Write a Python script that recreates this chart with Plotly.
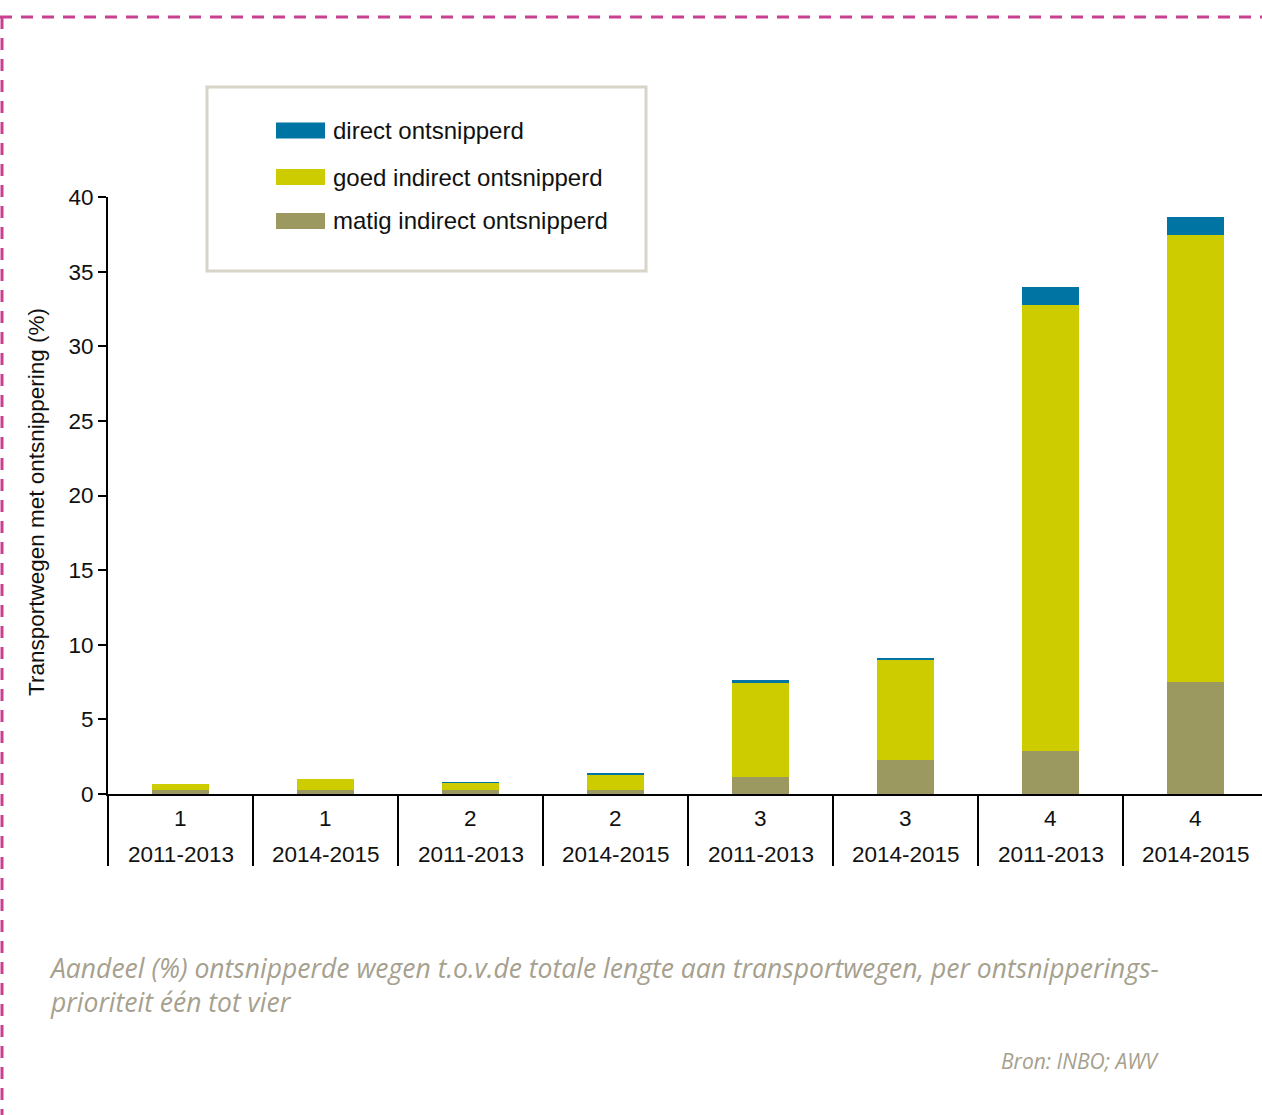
import plotly.graph_objects as go

# Ontsnippering per prioriteit en periode (% van totale lengte transportwegen)
priorities = ["1", "1", "2", "2", "3", "3", "4", "4"]
periods = ["2011-2013", "2014-2015", "2011-2013", "2014-2015",
           "2011-2013", "2014-2015", "2011-2013", "2014-2015"]
matig_indirect = [0.30, 0.30, 0.25, 0.30, 1.16, 2.30, 2.90, 7.50]
goed_indirect = [0.40, 0.70, 0.50, 1.00, 6.30, 6.70, 29.85, 29.95]
direct = [0.00, 0.00, 0.05, 0.08, 0.16, 0.11, 1.20, 1.20]

series_names = ["direct ontsnipperd", "goed indirect ontsnipperd", "matig indirect ontsnipperd"]
series_colors = ["#0074a3", "#cccc00", "#9c9960"]
y_ticks = [0, 5, 10, 15, 20, 25, 30, 35, 40]

caption_lines = [
    "Aandeel (%) ontsnipperde wegen t.o.v.de totale lengte aan transportwegen, per ontsnipperings-",
    "prioriteit één tot vier",
]
source_text = "Bron: INBO; AWV"

W, H = 1262, 1115
PL, PR, PT, PB = 108, 1262, 197, 794  # plot area in pixels
CAT_W = 145  # pixels per category


def px(x):
    return (x - PL) / (PR - PL)


def py(y):
    return (PB - y) / (PB - PT)


cats = [f"{p}|{t}" for p, t in zip(priorities, periods)]

fig = go.Figure()
for name, vals, col in [
    (series_names[2], matig_indirect, series_colors[2]),
    (series_names[1], goed_indirect, series_colors[1]),
    (series_names[0], direct, series_colors[0]),
]:
    fig.add_trace(go.Bar(x=cats, y=vals, name=name, marker=dict(color=col, line=dict(width=0)),
                         width=0.395, showlegend=False))

font_main = "Liberation Sans, Arial, sans-serif"
fs = 22.5

shapes = []
annotations = []

# category dividers below the x axis
for i in range(1, len(cats) + 1):
    shapes.append(dict(type="line", xref="x", yref="paper", x0=i - 0.5, x1=i - 0.5,
                       y0=0, y1=py(866), line=dict(color="black", width=2)))
# y axis line extension below the axis
shapes.append(dict(type="line", xref="paper", yref="paper", x0=0, x1=0,
                   y0=0, y1=py(866), line=dict(color="black", width=2)))

# two-row category labels
for c, p, t in zip(cats, priorities, periods):
    annotations.append(dict(x=c, xref="x", y=py(818), yref="paper", text=p, showarrow=False,
                            font=dict(family=font_main, size=fs, color="#111"),
                            xanchor="center", yanchor="middle"))
    annotations.append(dict(x=c, xref="x", y=py(854), yref="paper", text=t, showarrow=False,
                            font=dict(family=font_main, size=fs, color="#111"),
                            xanchor="center", yanchor="middle"))

# y axis title
annotations.append(dict(x=px(36), y=py(502), xref="paper", yref="paper",
                        text="Transportwegen met ontsnippering (%)", textangle=-90,
                        showarrow=False, font=dict(family=font_main, size=fs, color="#111"),
                        xanchor="center", yanchor="middle"))

# legend box
shapes.append(dict(type="rect", xref="paper", yref="paper", x0=px(207), x1=px(646),
                   y0=py(271), y1=py(87), line=dict(color="#d8d4c8", width=3),
                   fillcolor="white", layer="below"))
legend_rows = [(122.5, 138.5), (169, 185), (213, 229)]
for (y0, y1), name, col in zip(legend_rows, series_names, series_colors):
    shapes.append(dict(type="rect", xref="paper", yref="paper", x0=px(276), x1=px(325),
                       y0=py(y1), y1=py(y0), fillcolor=col, line=dict(width=0)))
    annotations.append(dict(x=px(331), y=py((y0 + y1) / 2), xref="paper", yref="paper",
                            text=name, showarrow=False, xanchor="left", yanchor="middle",
                            font=dict(family=font_main, size=24, color="#111")))

# dashed page frame
frame = dict(color="#c8408f", width=3, dash="12px,9px")
shapes.append(dict(type="line", xref="paper", yref="paper", x0=px(0), x1=px(1262),
                   y0=py(17), y1=py(17), line=frame))
shapes.append(dict(type="line", xref="paper", yref="paper", x0=px(2), x1=px(2),
                   y0=py(17), y1=py(1115), line=frame))

# caption and source
cap_font = dict(family="Open Sans, sans-serif", size=26.5, color="#a6a08e", style="italic")
annotations.append(dict(x=px(47), y=py(985), xref="paper", yref="paper",
                        text="<br>".join(caption_lines), align="left",
                        showarrow=False, xanchor="left", yanchor="middle", font=cap_font))
annotations.append(dict(x=px(999), y=py(1061), xref="paper", yref="paper", text=source_text,
                        showarrow=False, xanchor="left", yanchor="middle",
                        font=dict(family="Open Sans, sans-serif", size=21, color="#a6a08e",
                                  style="italic")))

fig.update_layout(
    width=W, height=H,
    margin=dict(l=PL, r=W - PR, t=PT, b=H - PB, pad=0),
    paper_bgcolor="white", plot_bgcolor="white",
    barmode="stack",
    shapes=shapes, annotations=annotations,
    xaxis=dict(showticklabels=False, showgrid=False, zeroline=False, showline=True,
               linecolor="black", linewidth=2, ticks="",
               range=[-0.5, -0.5 + (PR - PL) / CAT_W]),
    yaxis=dict(range=[0, 40], tickvals=y_ticks, showgrid=False, zeroline=False,
               showline=True, linecolor="black", linewidth=2, ticks="outside", ticklen=8,
               tickwidth=2, tickcolor="black",
               tickfont=dict(family=font_main, size=fs, color="#111")),
)

fig.write_html("out.html")
